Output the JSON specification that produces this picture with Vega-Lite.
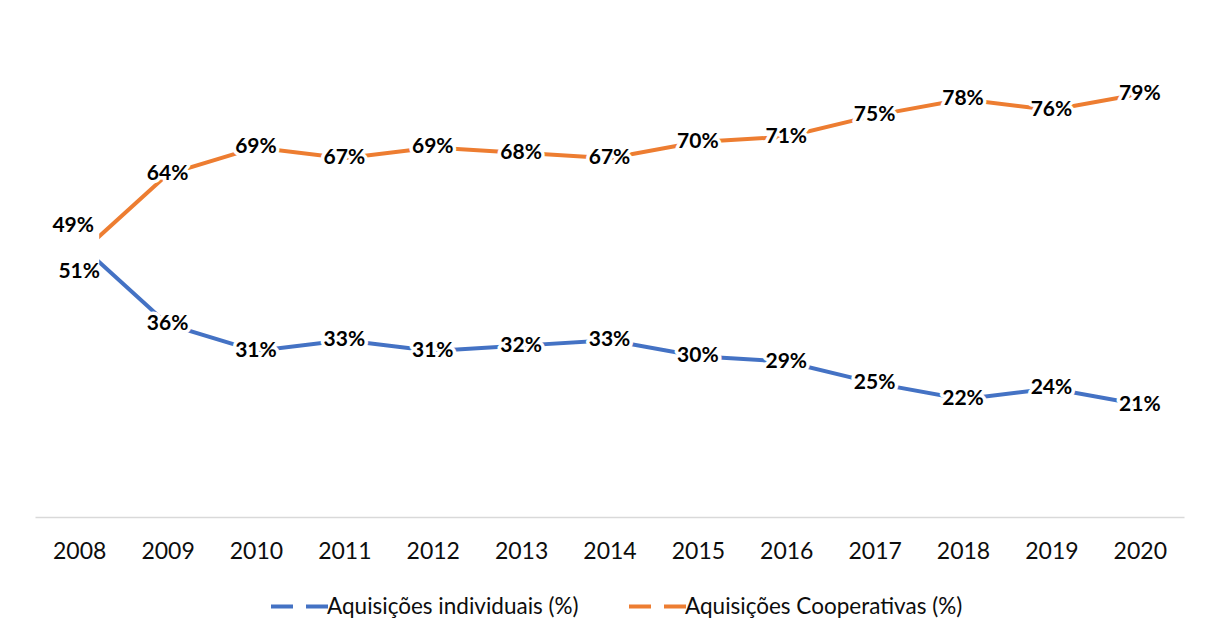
{
  "$schema": "https://vega.github.io/schema/vega-lite/v6.json",
  "width": 1149,
  "height": 482,
  "autosize": {"type": "none"},
  "padding": {"left": 35, "top": 35, "right": 28, "bottom": 121},
  "background": "white",
  "config": {"view": {"stroke": null}, "font": "Lato"},
  "data": {
    "values": [
      {"ano": "2008", "serie": "Aquisições individuais (%)", "valor": 0.51},
      {"ano": "2009", "serie": "Aquisições individuais (%)", "valor": 0.36},
      {"ano": "2010", "serie": "Aquisições individuais (%)", "valor": 0.31},
      {"ano": "2011", "serie": "Aquisições individuais (%)", "valor": 0.33},
      {"ano": "2012", "serie": "Aquisições individuais (%)", "valor": 0.31},
      {"ano": "2013", "serie": "Aquisições individuais (%)", "valor": 0.32},
      {"ano": "2014", "serie": "Aquisições individuais (%)", "valor": 0.33},
      {"ano": "2015", "serie": "Aquisições individuais (%)", "valor": 0.30},
      {"ano": "2016", "serie": "Aquisições individuais (%)", "valor": 0.29},
      {"ano": "2017", "serie": "Aquisições individuais (%)", "valor": 0.25},
      {"ano": "2018", "serie": "Aquisições individuais (%)", "valor": 0.22},
      {"ano": "2019", "serie": "Aquisições individuais (%)", "valor": 0.24},
      {"ano": "2020", "serie": "Aquisições individuais (%)", "valor": 0.21},
      {"ano": "2008", "serie": "Aquisições Cooperativas (%)", "valor": 0.49},
      {"ano": "2009", "serie": "Aquisições Cooperativas (%)", "valor": 0.64},
      {"ano": "2010", "serie": "Aquisições Cooperativas (%)", "valor": 0.69},
      {"ano": "2011", "serie": "Aquisições Cooperativas (%)", "valor": 0.67},
      {"ano": "2012", "serie": "Aquisições Cooperativas (%)", "valor": 0.69},
      {"ano": "2013", "serie": "Aquisições Cooperativas (%)", "valor": 0.68},
      {"ano": "2014", "serie": "Aquisições Cooperativas (%)", "valor": 0.67},
      {"ano": "2015", "serie": "Aquisições Cooperativas (%)", "valor": 0.70},
      {"ano": "2016", "serie": "Aquisições Cooperativas (%)", "valor": 0.71},
      {"ano": "2017", "serie": "Aquisições Cooperativas (%)", "valor": 0.75},
      {"ano": "2018", "serie": "Aquisições Cooperativas (%)", "valor": 0.78},
      {"ano": "2019", "serie": "Aquisições Cooperativas (%)", "valor": 0.76},
      {"ano": "2020", "serie": "Aquisições Cooperativas (%)", "valor": 0.79}
    ]
  },
  "encoding": {
    "x": {
      "field": "ano",
      "type": "ordinal",
      "scale": {"type": "point", "padding": 0.5},
      "axis": {
        "title": null,
        "labelAngle": 0,
        "domainColor": "#D9D9D9",
        "domainWidth": 1.5,
        "ticks": false,
        "tickSize": 0,
        "grid": false,
        "labelFont": "Lato",
        "labelFontSize": 23,
        "labelColor": "#0d0d0d",
        "labelBaseline": "middle",
        "labelPadding": 34
      }
    },
    "y": {
      "field": "valor",
      "type": "quantitative",
      "scale": {"domain": [0, 0.9]},
      "axis": null
    }
  },
  "layer": [
    {
      "mark": {"type": "line", "strokeWidth": 4},
      "encoding": {
        "color": {
          "field": "serie",
          "type": "nominal",
          "sort": null,
          "scale": {
            "domain": ["Aquisições individuais (%)", "Aquisições Cooperativas (%)"],
            "range": ["#4472C4", "#ED7D31"]
          },
          "legend": {
            "orient": "none",
            "legendX": 234,
            "legendY": 541,
            "direction": "horizontal",
            "title": null,
            "symbolType": "stroke",
            "symbolSize": 3249,
            "symbolStrokeWidth": 4,
            "symbolDash": [22, 13],
            "labelFont": "Lato",
            "labelFontSize": 22.5,
            "labelColor": "#0d0d0d",
            "labelOffset": -3,
            "labelLimit": 0,
            "columnPadding": 42
          }
        }
      }
    },
    {
      "transform": [{"filter": "datum.ano == '2008' && datum.serie == 'Aquisições individuais (%)'"}],
      "mark": {"type": "point", "shape": "square", "filled": true, "color": "white", "opacity": 1, "size": 1600, "yOffset": 3}
    },
    {
      "transform": [{"filter": "datum.ano != '2008'"}],
      "mark": {"type": "text", "font": "Lato", "fontWeight": "bold", "fontSize": 21, "fill": "white", "stroke": "white", "strokeWidth": 7, "strokeJoin": "round", "baseline": "middle"},
      "encoding": {"text": {"field": "valor", "type": "quantitative", "format": ".0%"}}
    },
    {
      "transform": [{"filter": "datum.ano != '2008'"}],
      "mark": {"type": "text", "font": "Lato", "fontWeight": "bold", "fontSize": 21, "color": "#000000", "baseline": "middle"},
      "encoding": {"text": {"field": "valor", "type": "quantitative", "format": ".0%"}}
    },
    {
      "transform": [{"filter": "datum.ano == '2008' && datum.serie == 'Aquisições Cooperativas (%)'"}],
      "mark": {"type": "text", "font": "Lato", "fontWeight": "bold", "fontSize": 21, "color": "#000000", "baseline": "middle", "dx": -6, "dy": -29},
      "encoding": {"text": {"field": "valor", "type": "quantitative", "format": ".0%"}}
    },
    {
      "transform": [{"filter": "datum.ano == '2008' && datum.serie == 'Aquisições individuais (%)'"}],
      "mark": {"type": "text", "font": "Lato", "fontWeight": "bold", "fontSize": 21, "color": "#000000", "baseline": "middle", "dx": 0, "dy": 28},
      "encoding": {"text": {"field": "valor", "type": "quantitative", "format": ".0%"}}
    }
  ]
}
